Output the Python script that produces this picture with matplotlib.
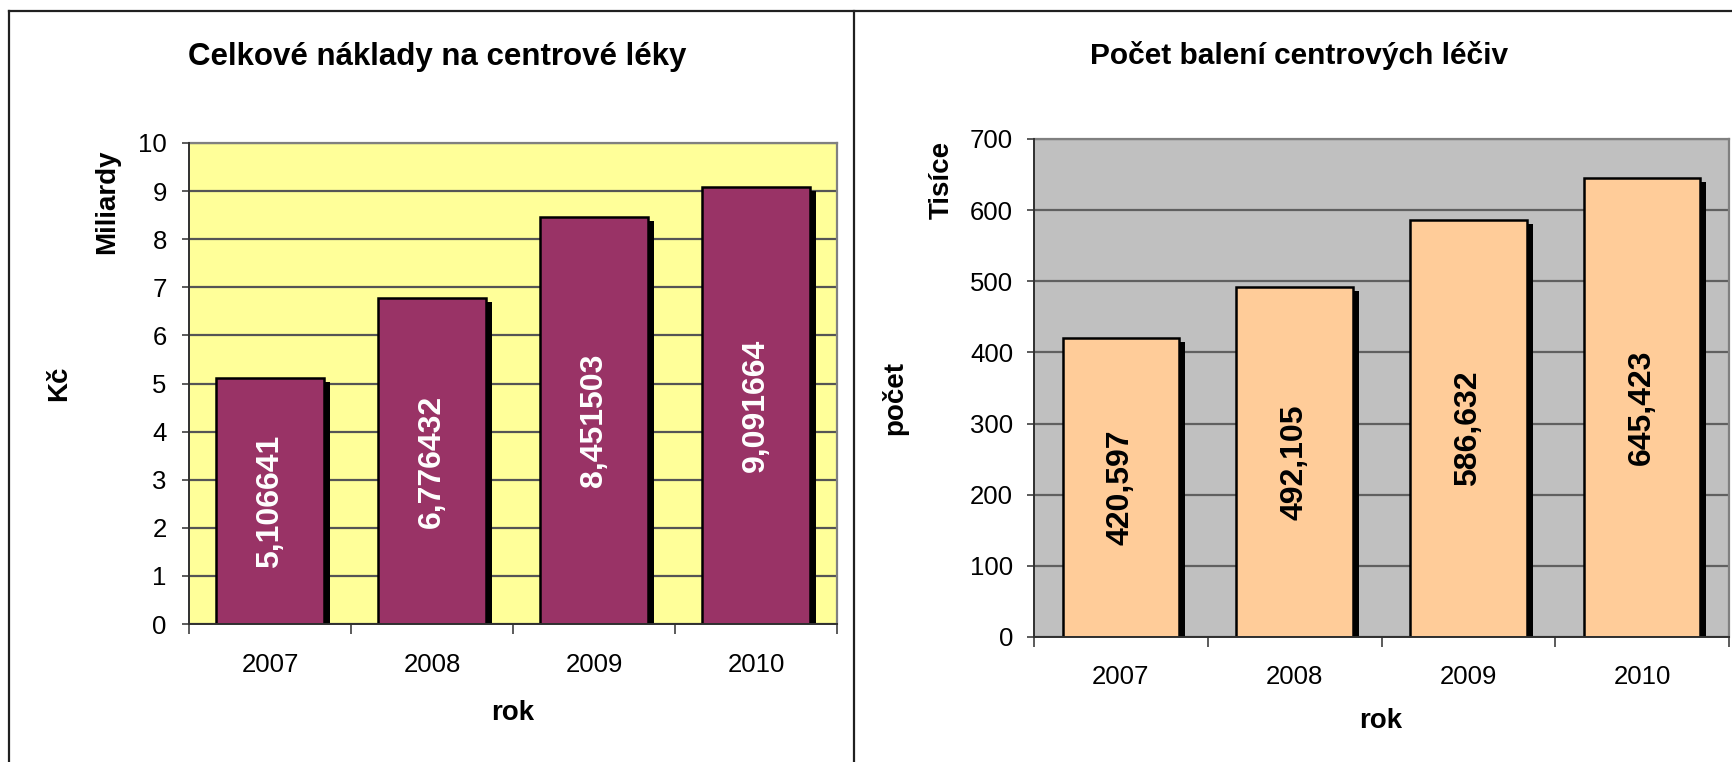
import matplotlib
matplotlib.use("Agg")
import matplotlib.pyplot as plt
import matplotlib.transforms as mtransforms
from matplotlib.lines import Line2D

plt.rcParams['font.family'] = ['Liberation Sans', 'DejaVu Sans']

# ---- data ----
years = ["2007", "2008", "2009", "2010"]
costs_bn = [5.106641, 6.776432, 8.451503, 9.091664]
packs_k = [420.597, 492.105, 586.632, 645.423]
left_yticks = list(range(0, 11))
right_yticks = list(range(0, 701, 100))

left_title = "Celkové náklady na centrové léky"
right_title = "Počet balení centrových léčiv"

W, H = 1733, 762
fig = plt.figure(figsize=(W / 100, H / 100), dpi=100)
fig.patch.set_facecolor("white")

def px_rect(x0, y0, x1, y1):
    return [x0 / W, 1 - y1 / H, (x1 - x0) / W, (y1 - y0) / H]

def draw_chart(ax, values, labels_fmt, yticks, bar_color, bg, grid_color,
               label_color, ytick_pad, xtick_pad):
    x = list(range(len(years)))
    ax.set_facecolor(bg)
    ax.set_xlim(-0.5, len(years) - 0.5)
    ax.set_ylim(yticks[0], yticks[-1])
    ax.set_axisbelow(True)
    # shadow bars
    shadow_tr = ax.transData + mtransforms.ScaledTranslation(6 / 100, -4 / 100, fig.dpi_scale_trans)
    ax.bar(x, values, width=0.67, color="black", edgecolor="black", linewidth=0,
           transform=shadow_tr, zorder=2)
    bars = ax.bar(x, values, width=0.67, color=bar_color, edgecolor="black",
                  linewidth=1.8, zorder=3)
    for b, v in zip(bars, values):
        ax.text(b.get_x() + b.get_width() / 2, v / 2, labels_fmt(v),
                rotation=90, ha="center", va="center", color=label_color,
                fontsize=23, fontweight="bold", zorder=4)
    ax.set_yticks(yticks)
    ax.set_yticklabels([str(t) for t in yticks], fontsize=18.5)
    ax.yaxis.grid(True, color=grid_color, linewidth=1.6)
    ax.tick_params(axis="y", direction="out", length=5, width=1.2, color="#404040",
                   pad=ytick_pad)
    # x: boundary ticks (major, no labels) and centered labels (minor)
    ax.set_xticks([i - 0.5 for i in range(len(years) + 1)])
    ax.set_xticklabels([""] * (len(years) + 1))
    ax.set_xticks(x, minor=True)
    ax.set_xticklabels(years, minor=True, fontsize=18.5)
    ax.tick_params(axis="x", which="major", direction="out", length=7, width=1.2,
                   color="#404040")
    ax.tick_params(axis="x", which="minor", length=0, pad=xtick_pad)
    for s in ["top", "right"]:
        ax.spines[s].set_color("#808080")
        ax.spines[s].set_linewidth(1.6)
    for s in ["left", "bottom"]:
        ax.spines[s].set_color("#303030")
        ax.spines[s].set_linewidth(1.4)
        ax.spines[s].set_zorder(5)

# ---- left chart ----
axL = fig.add_axes(px_rect(189, 143, 837, 624))
draw_chart(axL, costs_bn, lambda v: f"{v:.6f}".replace(".", ","), left_yticks,
           "#993366", "#FFFF99", "#555555", "white", ytick_pad=11, xtick_pad=21)

# ---- right chart ----
axR = fig.add_axes(px_rect(1034, 139, 1729, 637))
draw_chart(axR, packs_k, lambda v: f"{v:.3f}".replace(".", ","), right_yticks,
           "#FFCC99", "#C0C0C0", "#606060", "black", ytick_pad=10, xtick_pad=20)

# ---- titles & axis labels (figure pixel positions) ----
def ftext(xp, yp, s, **kw):
    fig.text(xp / W, 1 - yp / H, s, ha="center", va="center", **kw)

ftext(437, 57, left_title, fontsize=22.5, fontweight="bold")
ftext(1299, 55, right_title, fontsize=21.5, fontweight="bold")
ftext(107, 202, "Miliardy", fontsize=20, fontweight="bold", rotation=90)
ftext(59, 383, "Kč", fontsize=20, fontweight="bold", rotation=90)
ftext(513, 713, "rok", fontsize=20, fontweight="bold")
ftext(942, 180, "Tisíce", fontsize=20, fontweight="bold", rotation=90)
ftext(895, 398, "počet", fontsize=20, fontweight="bold", rotation=90)
ftext(1381, 721, "rok", fontsize=20, fontweight="bold")

# ---- outer frame lines ----
frame_kw = dict(color="#202020", linewidth=1.6, transform=fig.transFigure)
fig.add_artist(Line2D([9 / W, 1], [1 - 11 / H, 1 - 11 / H], **frame_kw))
fig.add_artist(Line2D([9 / W, 9 / W], [0, 1 - 11 / H], **frame_kw))
fig.add_artist(Line2D([854 / W, 854 / W], [0, 1 - 11 / H], **frame_kw))

fig.savefig("out.png", dpi=100)
